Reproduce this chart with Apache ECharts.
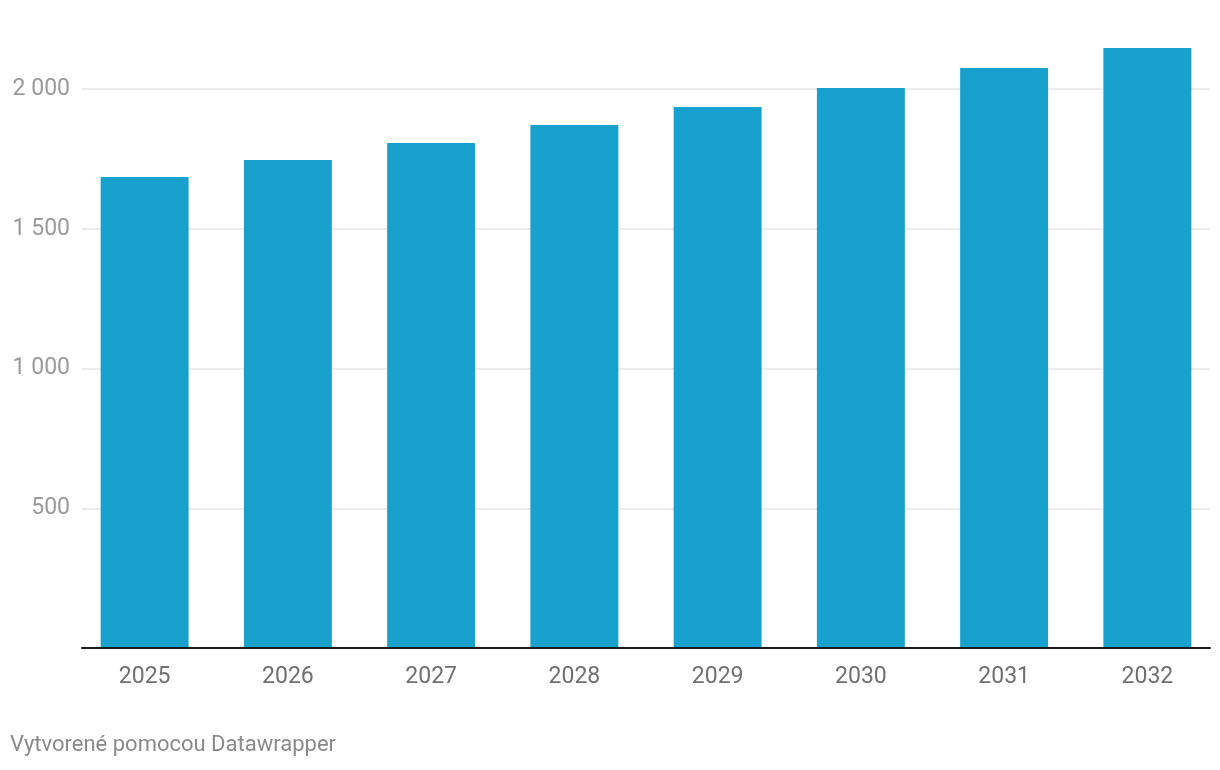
<!DOCTYPE html>
<html>
<head>
<meta charset="utf-8">
<script src="https://cdn.jsdelivr.net/npm/echarts@6/dist/echarts.min.js"></script>
<style>
html,body{margin:0;padding:0;background:#fff;}
#chart{width:1220px;height:770px;}
</style>
</head>
<body>
<div id="chart"></div>
<script>
const categories = ['2025','2026','2027','2028','2029','2030','2031','2032'];
const values = [1685, 1746, 1807, 1871, 1936, 2004, 2075, 2147];
const yTicks = [0, 500, 1000, 1500, 2000];
const footer = 'Vytvorené pomocou Datawrapper';

const chart = echarts.init(document.getElementById('chart'), null, {renderer:'canvas'});
const FONT = 'Roboto';
const fmt = v => v === 0 ? '' : String(v).replace(/\B(?=(\d{3})+(?!\d))/g, ' ');

chart.setOption({
  backgroundColor: '#fff',
  animation: false,
  textStyle: {fontFamily: FONT},
  grid: [
    {left: 82, right: 10, top: 89, bottom: 122, containLabel: false},
    {left: 73, right: 1, top: 89, bottom: 122, containLabel: false}
  ],
  xAxis: [
    {type: 'category', gridIndex: 0, data: categories, z: 5,
     axisLine: {show: true, lineStyle: {color: '#1a1a1a', width: 2}},
     axisTick: {show: false}, axisLabel: {show: false}, splitLine: {show: false}},
    {type: 'category', gridIndex: 1, data: categories,
     axisLine: {show: false}, axisTick: {show: false},
     axisLabel: {show: true, color: '#707070', fontSize: 23, fontFamily: FONT, margin: 18},
     splitLine: {show: false}}
  ],
  yAxis: [
    {type: 'value', gridIndex: 0, min: yTicks[0], max: yTicks[yTicks.length-1], interval: 500,
     axisLine: {show: false}, axisTick: {show: false},
     axisLabel: {show: true, color: '#9a9a9a', fontSize: 23, fontFamily: FONT, margin: 12, formatter: fmt},
     splitLine: {show: true, lineStyle: {color: '#e6e6e6', width: 1.5}}},
    {type: 'value', gridIndex: 1, min: yTicks[0], max: yTicks[yTicks.length-1], interval: 500,
     axisLine: {show: false}, axisTick: {show: false}, axisLabel: {show: false}, splitLine: {show: false}}
  ],
  series: [{
    type: 'bar', xAxisIndex: 1, yAxisIndex: 1, data: values, clip: false,
    barCategoryGap: '38.6%',
    itemStyle: {color: '#18a1cd'},
    z: 2
  }],
  graphic: [{
    type: 'text', left: 10, top: 734,
    style: {text: footer, fill: '#8a8a8a', font: '22px ' + FONT}
  }]
});
</script>
</body>
</html>
